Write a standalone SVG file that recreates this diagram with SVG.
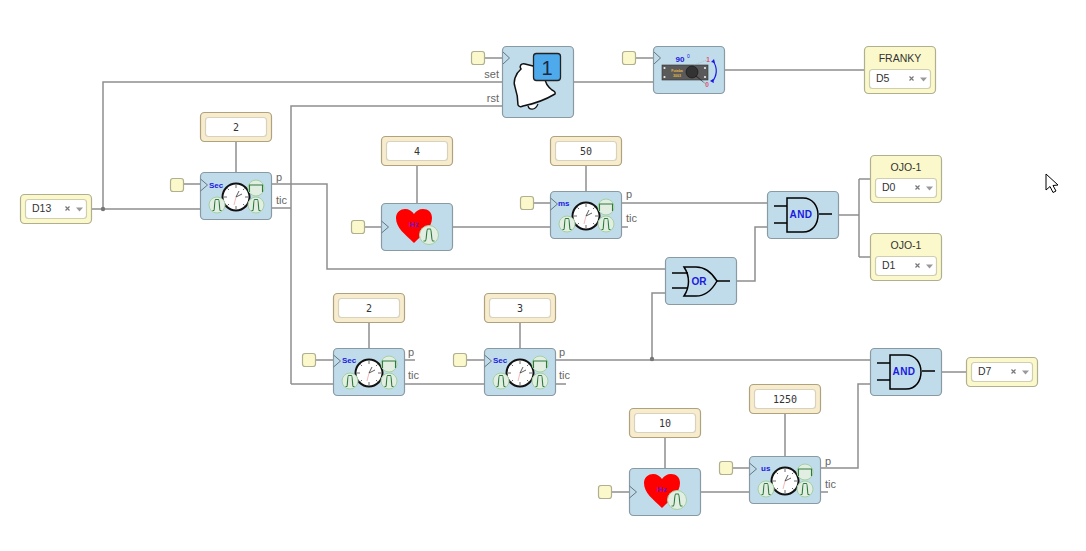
<svg xmlns="http://www.w3.org/2000/svg" width="1086" height="551" viewBox="0 0 1086 551">
<style>
text{font-family:"Liberation Sans",Arial,sans-serif}
.block{fill:#c0dcea;stroke:#8a9aa3;stroke-width:1.200}
.param{fill:#f8ecce;stroke:#b0a27c;stroke-width:1.200}
.pin{fill:#fbf9cc;stroke:#b0b090;stroke-width:1.200}
.inner{fill:#fff;stroke:#d8d2bc;stroke-width:1.200}
.yinner{fill:#fff;stroke:#cfcfb0;stroke-width:1.200}
.wire{fill:none;stroke:#8e8e8e;stroke-width:1.500}
.tri{fill:none;stroke:#66757f;stroke-width:1}
.pv{font-family:"DejaVu Sans Mono","Liberation Mono",monospace;font-size:10px;fill:#333;text-anchor:middle}
.sel{font-size:10.500px;fill:#333}
.port{font-size:11px;fill:#666}
.unit{font-size:8px;font-weight:bold;fill:#1a1ae0}
.gate{fill:none;stroke:#000;stroke-width:1.500}
.gl{font-size:10px;font-weight:bold;fill:#1a1ae0;text-anchor:middle;letter-spacing:.5px}
.pulse{fill:none;stroke:#2c7a3c;stroke-width:1.100}
.disc{fill:#e2eee2;stroke:#a4d0a4;stroke-width:1}
.title{font-size:10.500px;fill:#333;text-anchor:middle}
</style>
<defs>
<g id="clock">
<circle cx="0" cy="0" r="13.500" fill="#fff" stroke="#111" stroke-width="2"/>
<path d="M0-12V-9M0 12V9M-12 0H-9M12 0H9M-8.500-8.500L-7-7M8.500-8.500L7-7M-8.500 8.500L-7 7M8.500 8.500L7 7" stroke="#444" stroke-width=".8" fill="none"/>
<path d="M0 0L6-3M0 0L3-6" stroke="#333" stroke-width=".8" fill="none"/>
<path d="M0 0L-2 8" stroke="#e88" stroke-width=".6" fill="none"/>
</g>
<g id="pulseDisc">
<circle cx="0" cy="0" r="8" class="disc"/>
<path d="M-4.500 5.500H-3C-2.500 5.500-2.500-5.500-1.500-5.500H1.500C2.500-5.500 2.500 5.500 3 5.500H4.500" class="pulse"/>
</g>
<g id="timerIcon">
<use href="#clock" x="36" y="25"/>
<use href="#pulseDisc" x="17" y="33"/>
<circle cx="56" cy="16" r="8" class="disc"/>
<path d="M49.500 20V13H62.500V20" class="pulse"/>
<use href="#pulseDisc" x="56" y="33"/>
<path d="M0.500 7L7.500 13L0.500 19" class="tri"/>
</g>
<g id="heartIcon">
<path d="M33 40C24 31 15 25 15 15C15 9 20 6 24 6C28 6 31 8 33 11C35 8 38 6 42 6C47 6 51 9 51 15C51 25 42 31 33 40Z" fill="#f00"/>
<text x="33" y="24" font-size="8" font-weight="bold" fill="#7a10c0" text-anchor="middle">Hz</text>
<circle cx="48" cy="32" r="9.500" class="disc"/>
<path d="M42.500 38H44.500C45.500 38 45.500 26 46.500 26H49.500C50.500 26 50.500 38 51.500 38H53.500" class="pulse"/>
<path d="M0.500 18L7.500 24L0.500 30" class="tri"/>
</g>
<g id="andIcon">
<path d="M20 7H36C56 7 56 41 36 41H20Z" class="gate"/>
<path d="M7 15H20M7 32H20M52 23H65" class="gate"/>
</g>
<g id="sx">
<path d="M-0.500-0.500L3.500 3.500M3.500-0.500L-0.500 3.500" stroke="#777" stroke-width="1.200"/>
<path d="M10 0.500H17L13.500 4.500Z" fill="#999"/>
</g>
</defs>

<g id="connectors">
<path class="wire" d="M92 209H200M103 209V82H502"/>
<path class="wire" d="M291 384V106H502"/>
<path class="wire" d="M272 208H291M291 384H333"/>
<path class="wire" d="M272 184H327V269H665"/>
<path class="wire" d="M574 82H653M725 70H864"/>
<path class="wire" d="M453 227H550M622 203H767M622 227H628"/>
<path class="wire" d="M737 281H755V227H767"/>
<path class="wire" d="M839 215H859M859 179V257M859 179H870M859 257H870"/>
<path class="wire" d="M405 384H484M405 360H415M556 384H566"/>
<path class="wire" d="M556 360H870M652 360V293H665"/>
<path class="wire" d="M942 372H966"/>
<path class="wire" d="M701 492H749M821 468H858V384H870M821 492H828"/>
<path class="wire" d="M236 142V172M417 166V203M586 166V191M369 323V348M520 323V348M665 437V468M785 413V456"/>
<path class="wire" d="M484 58H502M635 58H653M183 184H200M364 227H381M533 203H550M315 360H333M466 360H484M611 492H629M732 468H749"/>
<circle cx="103" cy="209" r="2.200" fill="#777"/>
<circle cx="652" cy="359" r="2.200" fill="#777"/>
</g>

<g id="pin-bell"><rect class="pin" x="471.500" y="51.500" width="13" height="13" rx="2.500"/></g>
<g id="pin-servo"><rect class="pin" x="622.500" y="51.500" width="13" height="13" rx="2.500"/></g>
<g id="pin-t1"><rect class="pin" x="170.500" y="178.500" width="13" height="13" rx="2.500"/></g>
<g id="pin-h1"><rect class="pin" x="351.500" y="220.500" width="13" height="13" rx="2.500"/></g>
<g id="pin-t2"><rect class="pin" x="520.500" y="196.500" width="13" height="13" rx="2.500"/></g>
<g id="pin-t3"><rect class="pin" x="302.500" y="353.500" width="13" height="13" rx="2.500"/></g>
<g id="pin-t4"><rect class="pin" x="453.500" y="353.500" width="13" height="13" rx="2.500"/></g>
<g id="pin-h2"><rect class="pin" x="598.500" y="485.500" width="13" height="13" rx="2.500"/></g>
<g id="pin-t5"><rect class="pin" x="719.500" y="461.500" width="13" height="13" rx="2.500"/></g>

<g id="d13"><rect class="pin" x="20.500" y="194.500" width="71" height="29" rx="4"/><rect class="yinner" x="25.500" y="199.500" width="61" height="19" rx="3"/><text class="sel" x="32" y="212">D13</text><use href="#sx" x="66" y="207"/></g>
<g id="franky"><rect class="pin" x="864.500" y="46.500" width="71" height="47" rx="4"/><text class="title" x="900" y="62">FRANKY</text><rect class="yinner" x="869.500" y="69.500" width="61" height="19" rx="3"/><text class="sel" x="876" y="82">D5</text><use href="#sx" x="910" y="77"/></g>
<g id="ojo0"><rect class="pin" x="870.500" y="155.500" width="71" height="47" rx="4"/><text class="title" x="906" y="171">OJO-1</text><rect class="yinner" x="875.500" y="178.500" width="61" height="19" rx="3"/><text class="sel" x="882" y="191">D0</text><use href="#sx" x="916" y="186"/></g>
<g id="ojo1"><rect class="pin" x="870.500" y="233.500" width="71" height="47" rx="4"/><text class="title" x="906" y="249">OJO-1</text><rect class="yinner" x="875.500" y="256.500" width="61" height="19" rx="3"/><text class="sel" x="882" y="269">D1</text><use href="#sx" x="916" y="264"/></g>
<g id="d7"><rect class="pin" x="966.500" y="357.500" width="71" height="29" rx="4"/><rect class="yinner" x="971.500" y="362.500" width="61" height="19" rx="3"/><text class="sel" x="978" y="375">D7</text><use href="#sx" x="1012" y="370"/></g>

<g id="p1"><rect class="param" x="200.500" y="112.500" width="71" height="29" rx="4"/><rect class="inner" x="205.500" y="117.500" width="61" height="19" rx="3"/><text class="pv" x="236" y="131">2</text></g>
<g id="p2"><rect class="param" x="381.500" y="136.500" width="71" height="29" rx="4"/><rect class="inner" x="386.500" y="141.500" width="61" height="19" rx="3"/><text class="pv" x="417" y="155">4</text></g>
<g id="p3"><rect class="param" x="550.500" y="136.500" width="71" height="29" rx="4"/><rect class="inner" x="555.500" y="141.500" width="61" height="19" rx="3"/><text class="pv" x="586" y="155">50</text></g>
<g id="p4"><rect class="param" x="333.500" y="293.500" width="71" height="29" rx="4"/><rect class="inner" x="338.500" y="298.500" width="61" height="19" rx="3"/><text class="pv" x="369" y="312">2</text></g>
<g id="p5"><rect class="param" x="484.500" y="293.500" width="71" height="29" rx="4"/><rect class="inner" x="489.500" y="298.500" width="61" height="19" rx="3"/><text class="pv" x="520" y="312">3</text></g>
<g id="p6"><rect class="param" x="629.500" y="408.500" width="71" height="29" rx="4"/><rect class="inner" x="634.500" y="413.500" width="61" height="19" rx="3"/><text class="pv" x="665" y="427">10</text></g>
<g id="p7"><rect class="param" x="749.500" y="384.500" width="71" height="29" rx="4"/><rect class="inner" x="754.500" y="389.500" width="61" height="19" rx="3"/><text class="pv" x="785" y="403">1250</text></g>

<g id="bell">
<rect class="block" x="502.500" y="46.500" width="71" height="71" rx="4"/>
<path d="M503 52L509.500 58L503 64" class="tri"/>
<path d="M525 64C521 63 519 66 521 69C515 74 513 82 515 87C517 93 518 100 518 105C519 107 521 107 523 106C533 104 545 100 555 94C556 92 554 91 552 90C547 86 545 82 545 78C543 72 538 68 533 66Z" fill="#fff" stroke="#111" stroke-width="1.500"/>
<path d="M528 106C529 110 535 111 538 104" fill="#fff" stroke="#111" stroke-width="1.200"/>
<rect x="533.500" y="53.500" width="27" height="27" rx="3" fill="#4faaec" stroke="#222" stroke-width="1.300"/>
<text x="547" y="75" font-size="20" fill="#1a2a44" text-anchor="middle">1</text>
<text class="port" x="499" y="78" text-anchor="end">set</text>
<text class="port" x="499" y="102" text-anchor="end">rst</text>
</g>

<g id="servo">
<rect class="block" x="653.500" y="46.500" width="71" height="47" rx="4"/>
<path d="M654 52L660.500 58L654 64" class="tri"/>
<rect x="662" y="65" width="46" height="15" fill="#5a5a5a" stroke="#333" stroke-width=".6"/>
<circle cx="664.500" cy="68" r="1.100" fill="#eee"/><circle cx="664.500" cy="77" r="1.100" fill="#eee"/><circle cx="705" cy="68" r="1.100" fill="#eee"/><circle cx="705" cy="77" r="1.100" fill="#eee"/>
<text x="677" y="72" font-size="3.500" font-weight="bold" fill="#e8b840" text-anchor="middle">Futaba</text>
<text x="677" y="77" font-size="3.500" font-weight="bold" fill="#e8b840" text-anchor="middle">3003</text>
<path d="M695 76L707 85L688 68Z" fill="#2e2e2e"/>
<circle cx="692" cy="72" r="6" fill="#333" stroke="#111" stroke-width=".6"/>
<path d="M694 65L707 60" stroke="#aaa" stroke-width=".6" stroke-dasharray="1 1" fill="none"/>
<path d="M713 61C718 68 717 76 712 82" fill="none" stroke="#1a1ae0" stroke-width="1.200"/>
<path d="M711 62L714 59L715 63ZM710 81L714 83L713 79Z" fill="#1a1ae0"/>
<text x="680" y="62" font-size="8" font-weight="bold" fill="#1a1ae0" text-anchor="middle">90</text><text x="687" y="58" font-size="5" fill="#1a1ae0">0</text>
<text x="708" y="62" font-size="6.500" font-weight="bold" fill="#e0507a" text-anchor="middle">1</text>
<text x="707" y="87" font-size="6.500" font-weight="bold" fill="#e0507a" text-anchor="middle">0</text>
</g>

<g id="timer1"><rect class="block" x="200.500" y="172.500" width="71" height="47" rx="4"/><use href="#timerIcon" x="200" y="172"/><text class="unit" x="209" y="188">Sec</text><text class="port" x="276" y="181">p</text><text class="port" x="276" y="204">tic</text></g>
<g id="timer2"><rect class="block" x="550.500" y="191.500" width="71" height="47" rx="4"/><use href="#timerIcon" x="550" y="191"/><text class="unit" x="558" y="206">ms</text><text class="port" x="626" y="198">p</text><text class="port" x="626" y="222">tic</text></g>
<g id="timer3"><rect class="block" x="333.500" y="348.500" width="71" height="47" rx="4"/><use href="#timerIcon" x="333" y="348"/><text class="unit" x="342" y="363">Sec</text><text class="port" x="408" y="356">p</text><text class="port" x="408" y="379">tic</text></g>
<g id="timer4"><rect class="block" x="484.500" y="348.500" width="71" height="47" rx="4"/><use href="#timerIcon" x="484" y="348"/><text class="unit" x="493" y="363">Sec</text><text class="port" x="559" y="356">p</text><text class="port" x="559" y="379">tic</text></g>
<g id="timer5"><rect class="block" x="749.500" y="456.500" width="71" height="47" rx="4"/><use href="#timerIcon" x="749" y="456"/><text class="unit" x="761" y="471">us</text><text class="port" x="825" y="465">p</text><text class="port" x="825" y="488">tic</text></g>

<g id="heart1"><rect class="block" x="381.500" y="203.500" width="71" height="47" rx="4"/><use href="#heartIcon" x="381" y="203"/></g>
<g id="heart2"><rect class="block" x="629.500" y="468.500" width="71" height="47" rx="4"/><use href="#heartIcon" x="629" y="468"/></g>

<g id="and1"><rect class="block" x="767.500" y="191.500" width="71" height="47" rx="4"/><use href="#andIcon" x="767" y="191"/><text class="gl" x="801" y="218">AND</text></g>
<g id="and2"><rect class="block" x="870.500" y="348.500" width="71" height="47" rx="4"/><use href="#andIcon" x="870" y="348"/><text class="gl" x="904" y="375">AND</text></g>
<g id="or1"><rect class="block" x="665.500" y="257.500" width="71" height="47" rx="4"/>
<path d="M684 267H696C706 267 712 273 717 281C712 290 706 296 696 296H684C690 287 690 276 684 267Z" class="gate"/>
<path d="M672 273H688M672 288H688M717 281H730" class="gate"/>
<text x="699" y="285" font-size="10" font-weight="bold" fill="#1a1ae0" text-anchor="middle">OR</text></g>

<g id="cursor"><path d="M1046 174V190L1050 186.500L1053 192.500L1056 191L1053 185.500L1058 185Z" fill="#fff" stroke="#000" stroke-width="1"/></g>
</svg>
